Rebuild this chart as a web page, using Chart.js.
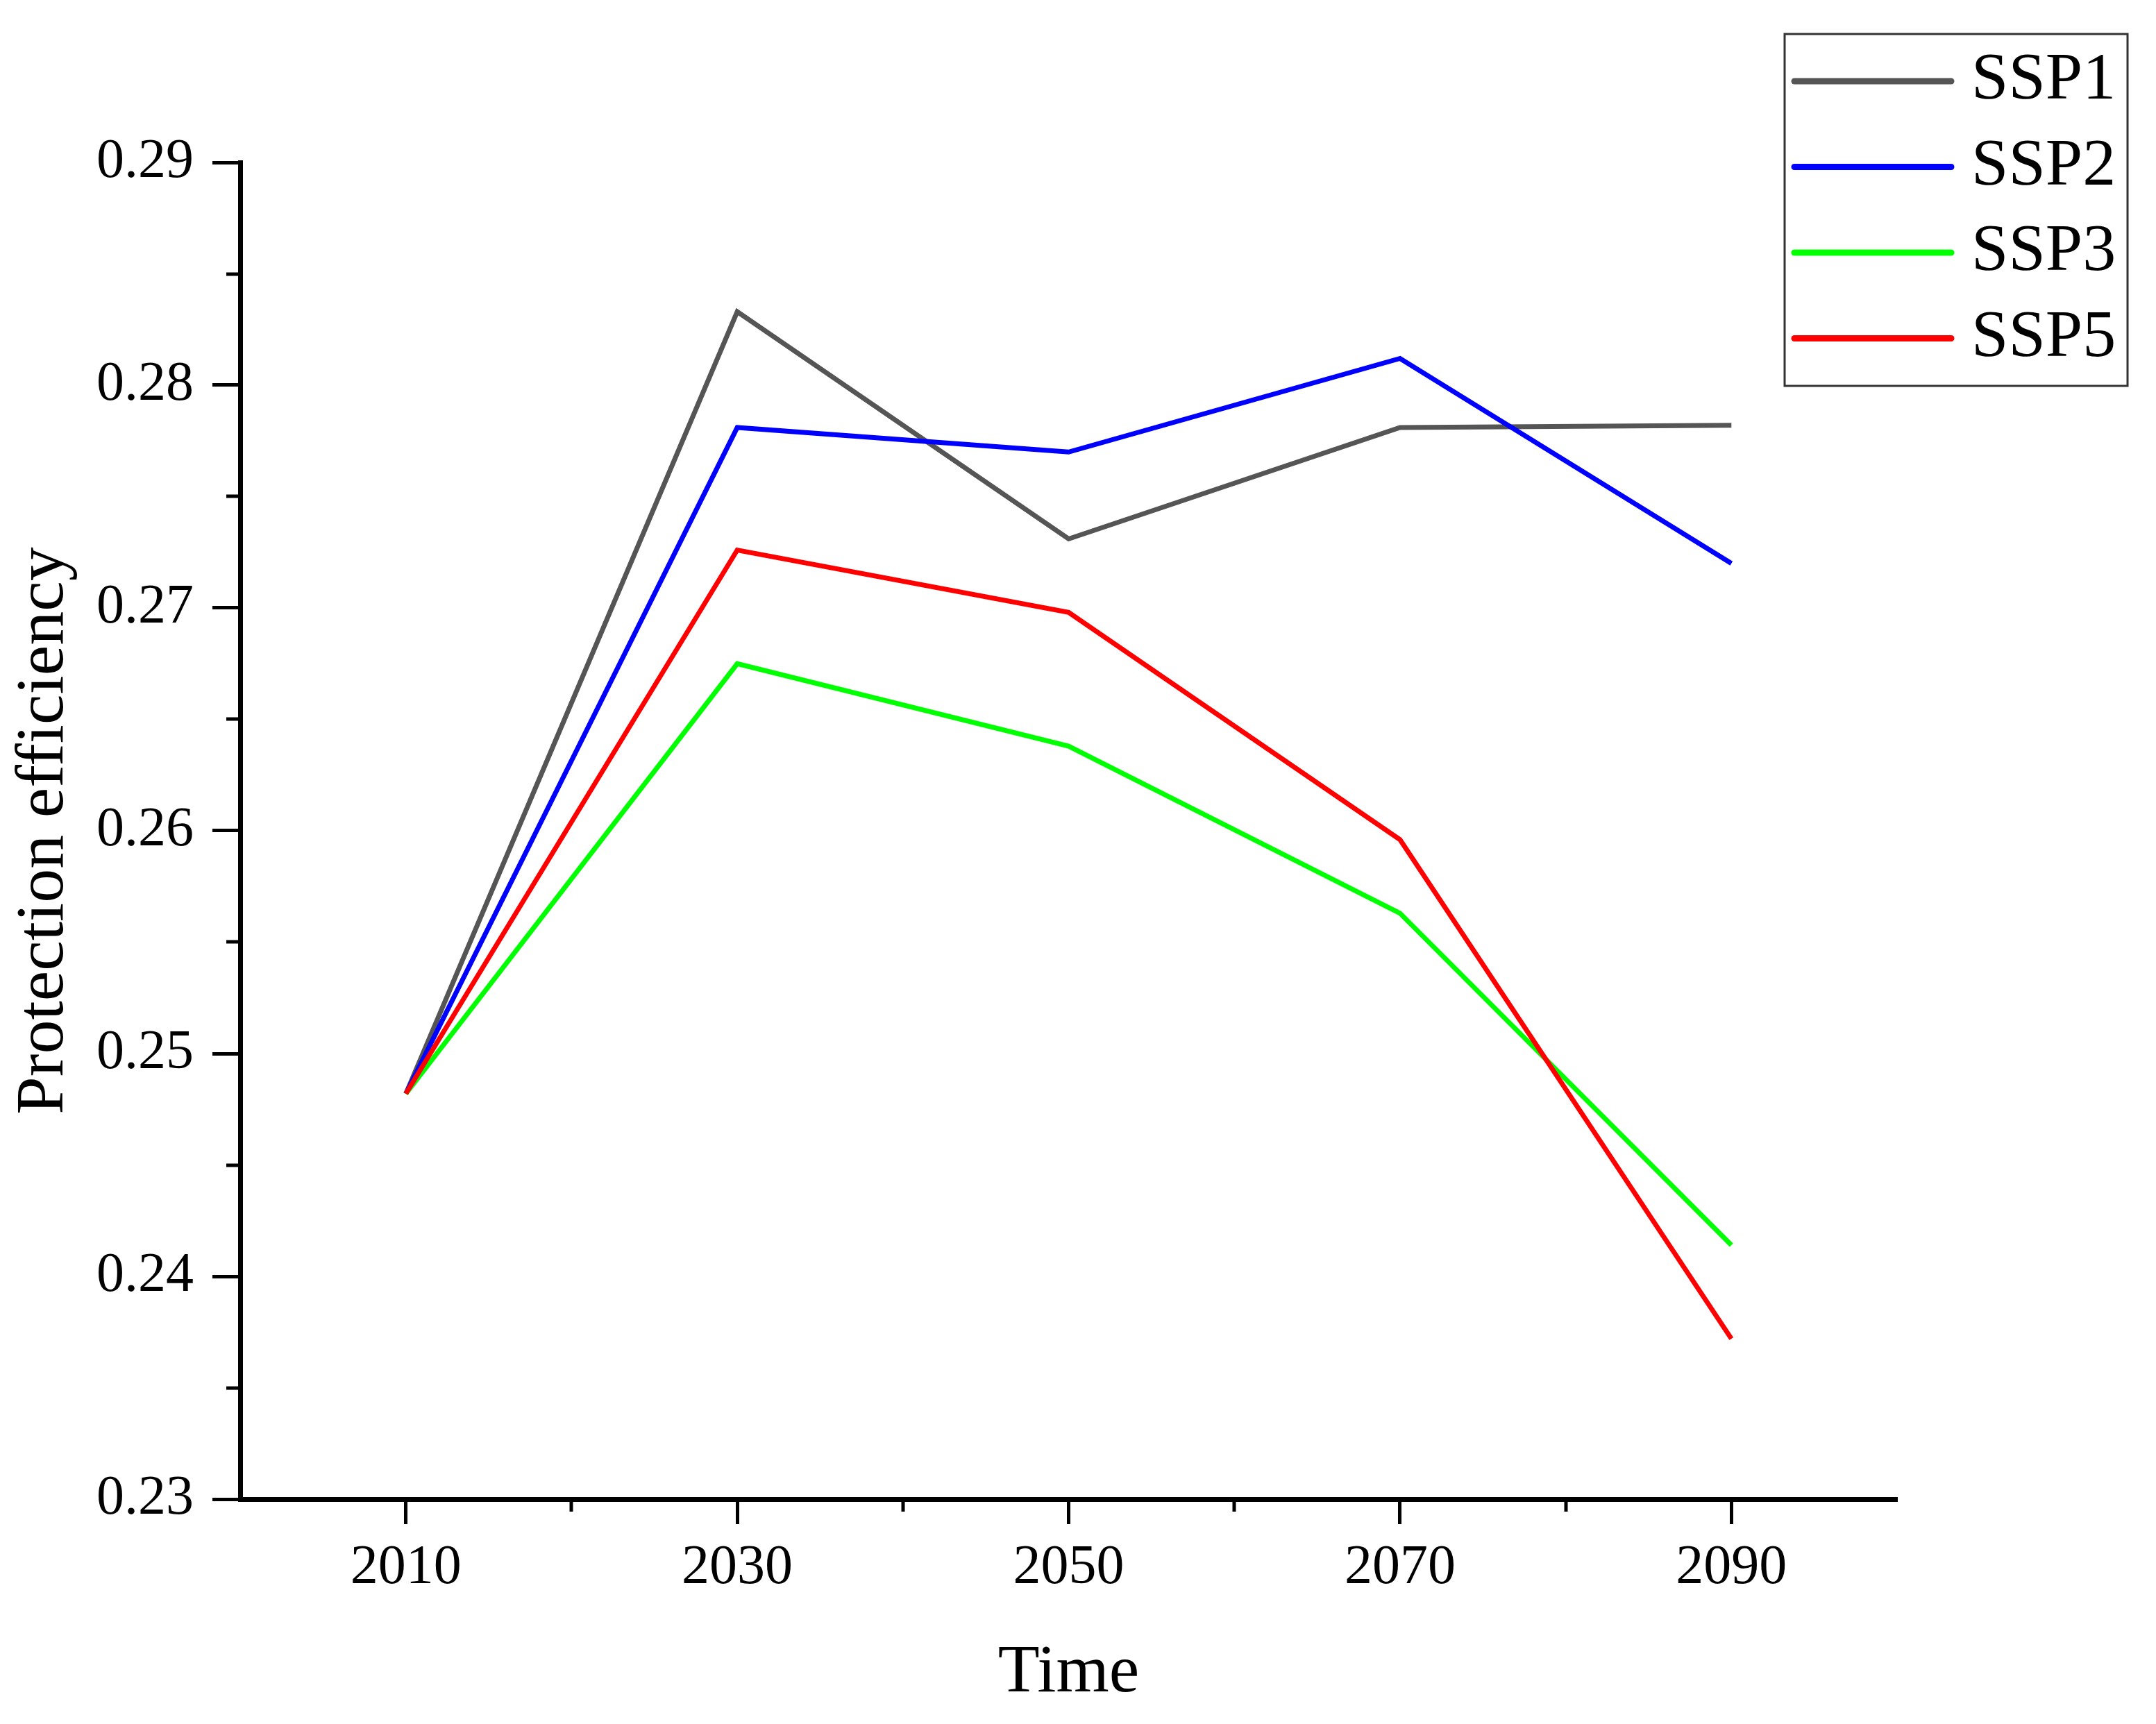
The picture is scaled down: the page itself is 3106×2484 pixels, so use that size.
<!DOCTYPE html>
<html>
<head>
<meta charset="utf-8">
<script src="https://cdn.jsdelivr.net/npm/chart.js@4"></script>
<style>
  html, body { margin: 0; padding: 0; background: #fff; }
  canvas { display: block; }
</style>
</head>
<body>
<canvas id="myChart" width="3106" height="2484"></canvas>
<script>
const years = [2010, 2030, 2050, 2070, 2090];
const ssp1 = [0.2482, 0.2833, 0.2731, 0.2781, 0.2782];
const ssp2 = [0.2482, 0.2781, 0.2770, 0.2812, 0.2720];
const ssp3 = [0.2482, 0.2675, 0.2638, 0.2563, 0.2414];
const ssp5 = [0.2482, 0.2726, 0.2698, 0.2596, 0.2372];
const seriesNames = ['SSP1', 'SSP2', 'SSP3', 'SSP5'];
const seriesColors = ['#555555', '#0000ff', '#00ff00', '#ff0000'];
const yTicks = [0.23, 0.24, 0.25, 0.26, 0.27, 0.28, 0.29];
const xMinorTicks = [2020, 2040, 2060, 2080];
const yMinorTicks = [0.235, 0.245, 0.255, 0.265, 0.275, 0.285];

const FONT = "'Liberation Serif', 'Times New Roman', serif";

const toPoints = vals => vals.map((v, i) => ({ x: years[i], y: v }));

// small ticks between the labelled ones
const minorTicks = {
    id: 'minorTicks',
    afterDraw(chart) {
        const ctx = chart.ctx;
        const xs = chart.scales.x, ys = chart.scales.y;
        const area = chart.chartArea;
        ctx.save();
        ctx.strokeStyle = '#000';
        ctx.lineWidth = 5;
        xMinorTicks.forEach(v => {
            const px = Math.round(xs.getPixelForValue(v));
            ctx.beginPath();
            ctx.moveTo(px, area.bottom);
            ctx.lineTo(px, area.bottom + 18);
            ctx.stroke();
        });
        yMinorTicks.forEach(v => {
            const py = Math.round(ys.getPixelForValue(v));
            ctx.beginPath();
            ctx.moveTo(area.left, py);
            ctx.lineTo(area.left - 20, py);
            ctx.stroke();
        });
        ctx.restore();
    }
};

// boxed legend in the top right corner
const boxLegend = {
    id: 'boxLegend',
    afterDraw(chart) {
        const ctx = chart.ctx;
        ctx.save();
        ctx.strokeStyle = '#333';
        ctx.lineWidth = 3;
        ctx.strokeRect(2571, 49, 494, 507);
        chart.data.datasets.forEach((ds, i) => {
            const y = 117 + i * 123.5;
            ctx.strokeStyle = ds.borderColor;
            ctx.lineWidth = 9;
            ctx.lineCap = 'round';
            ctx.beginPath();
            ctx.moveTo(2585, y);
            ctx.lineTo(2811, y);
            ctx.stroke();
            ctx.fillStyle = '#000';
            ctx.font = '96px ' + FONT;
            ctx.textBaseline = 'middle';
            ctx.textAlign = 'left';
            ctx.fillText(ds.label, 2840, y);
        });
        ctx.restore();
    }
};

const allSeries = [ssp1, ssp2, ssp3, ssp5];

const ctx = document.getElementById('myChart').getContext('2d');
new Chart(ctx, {
    type: 'line',
    data: {
        datasets: allSeries.map((vals, i) => ({
            label: seriesNames[i],
            data: toPoints(vals),
            borderColor: seriesColors[i],
            backgroundColor: seriesColors[i],
            borderWidth: 7,
            pointRadius: 0,
            tension: 0,
            borderJoinStyle: 'miter',
            order: allSeries.length - i
        }))
    },
    options: {
        responsive: false,
        animation: false,
        devicePixelRatio: 1,
        layout: { padding: { left: 0, right: 373, top: 234, bottom: 0 } },
        plugins: {
            legend: { display: false },
            tooltip: { enabled: false }
        },
        scales: {
            x: {
                type: 'linear',
                min: 2000,
                max: 2100,
                afterBuildTicks: scale => { scale.ticks = years.map(v => ({ value: v })); },
                afterFit: scale => { scale.height = 324; },
                ticks: {
                    color: '#000',
                    font: { family: FONT, size: 80 },
                    padding: 16,
                    maxRotation: 0,
                    callback: v => String(v)
                },
                grid: {
                    drawOnChartArea: false,
                    drawTicks: true,
                    tickLength: 36,
                    tickWidth: 5,
                    tickColor: '#000'
                },
                border: { display: true, color: '#000', width: 7 },
                title: {
                    display: true,
                    text: 'Time',
                    color: '#000',
                    font: { family: FONT, size: 98 },
                    padding: { top: 0, bottom: 14 }
                }
            },
            y: {
                min: 0.23,
                max: 0.29,
                afterBuildTicks: scale => { scale.ticks = yTicks.map(v => ({ value: v })); },
                afterFit: scale => { scale.width = 346; },
                ticks: {
                    color: '#000',
                    font: { family: FONT, size: 80 },
                    padding: 27,
                    callback: v => v.toFixed(2)
                },
                grid: {
                    drawOnChartArea: false,
                    drawTicks: true,
                    tickLength: 40,
                    tickWidth: 5,
                    tickColor: '#000'
                },
                border: { display: true, color: '#000', width: 7 },
                title: {
                    display: true,
                    text: 'Protection efficiency',
                    color: '#000',
                    font: { family: FONT, size: 98 },
                    padding: { top: 5, bottom: 0 }
                }
            }
        }
    },
    plugins: [minorTicks, boxLegend]
});
</script>
</body>
</html>
